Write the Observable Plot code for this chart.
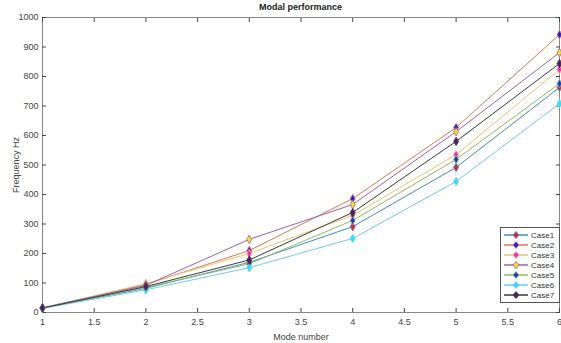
<!DOCTYPE html>
<html>
<head>
<meta charset="utf-8">
<script src="https://cdn.jsdelivr.net/npm/d3@7"></script>
<script src="https://cdn.jsdelivr.net/npm/@observablehq/plot@0.6"></script>
<style>
  body { margin: 0; background: #fff; font-family: "Liberation Sans", Arial, sans-serif; }
  #wrap { position: relative; width: 561px; height: 343px; overflow: hidden; }
  #title { position: absolute; top: 2px; left: 42px; width: 517px; text-align: center; font-size: 9px; font-weight: bold; color: #222; }
  #legend { position: absolute; left: 500px; top: 227px; width: 58px; background: #fff; border: 1px solid #555; padding: 2px 0 2px 0; font-size: 8px; color: #333; }
  #legend .row { display: flex; align-items: center; height: 10px; }
  #legend svg { margin-left: 2px; margin-right: 2px; }
</style>
</head>
<body>
<div id="wrap">
  <div id="chart"></div>
  <div id="title">Modal performance</div>
  <div id="legend"></div>
</div>
<script>
const modes = [1, 2, 3, 4, 5, 6];
const cases = ["Case1", "Case2", "Case3", "Case4", "Case5", "Case6", "Case7"];
const case1 = [15, 82, 170, 291, 492, 763];
const case2 = [16, 95, 210, 386, 627, 942];
const case3 = [15, 98, 200, 329, 535, 824];
const case4 = [16, 92, 248, 366, 613, 881];
const case5 = [15, 85, 165, 312, 519, 776];
const case6 = [14, 77, 152, 251, 444, 708];
const case7 = [15, 88, 178, 339, 580, 844];
const lineColors = ["#3f8cd0", "#e2774a", "#f2c468", "#9c62b0", "#8dbd5a", "#6ccdf2", "#3a3a3a"];
const markerFills = ["#e8202a", "#2020e8", "#ff22cc", "#f5e21a", "#1a3ae0", "#30e0f5", "#5a1a6a"];
const xTicks = [1, 1.5, 2, 2.5, 3, 3.5, 4, 4.5, 5, 5.5, 6];
const yTicks = [0, 100, 200, 300, 400, 500, 600, 700, 800, 900, 1000];

const series = [case1, case2, case3, case4, case5, case6, case7];
const data = [];
series.forEach((vals, i) => vals.forEach((v, j) => data.push({c: cases[i], x: modes[j], y: v})));

const plot = Plot.plot({
  width: 561,
  height: 343,
  marginLeft: 42,
  marginRight: 2,
  marginTop: 17,
  marginBottom: 31,
  style: {fontFamily: "Liberation Sans, Arial, sans-serif", fontSize: "9px", color: "#444", background: "#fff"},
  x: {domain: [1, 6]},
  y: {domain: [0, 1000]},
  color: {domain: cases, range: lineColors},
  marks: [
    Plot.frame({stroke: "#888", strokeWidth: 1}),
    Plot.axisX(xTicks, {anchor: "bottom", tickSize: -4, tickPadding: 10, tickFormat: d => String(d), label: "Mode number", labelAnchor: "center", labelOffset: 27, labelArrow: "none", stroke: "#444"}),
    Plot.axisX(xTicks, {anchor: "top", tickSize: -4, tickFormat: () => "", label: null, stroke: "#444"}),
    Plot.axisY(yTicks, {anchor: "left", tickSize: -4, tickPadding: 8, tickFormat: d => String(d), label: "Frequency Hz", labelAnchor: "center", labelOffset: 30, labelArrow: "none", stroke: "#444"}),
    Plot.axisY(yTicks, {anchor: "right", tickSize: -4, tickFormat: () => "", label: null, stroke: "#444"}),
    Plot.line(data, {x: "x", y: "y", z: "c", stroke: "c", strokeWidth: 1}),
    Plot.dot(data, {x: "x", y: "y", symbol: "diamond", r: 2.6, stroke: "c", strokeWidth: 0.8,
      fill: d => markerFills[cases.indexOf(d.c)]})
  ]
});
document.getElementById("chart").appendChild(plot);

const leg = document.getElementById("legend");
cases.forEach((c, i) => {
  const row = document.createElement("div");
  row.className = "row";
  row.innerHTML = `<svg width="26" height="10"><line x1="1" x2="25" y1="5" y2="5" stroke="${lineColors[i]}" stroke-width="1.5"/>` +
    `<path d="M13,1.5 L16,5 L13,8.5 L10,5 Z" fill="${markerFills[i]}" stroke="${lineColors[i]}" stroke-width="0.8"/></svg><span>${c}</span>`;
  leg.appendChild(row);
});
</script>
</body>
</html>
